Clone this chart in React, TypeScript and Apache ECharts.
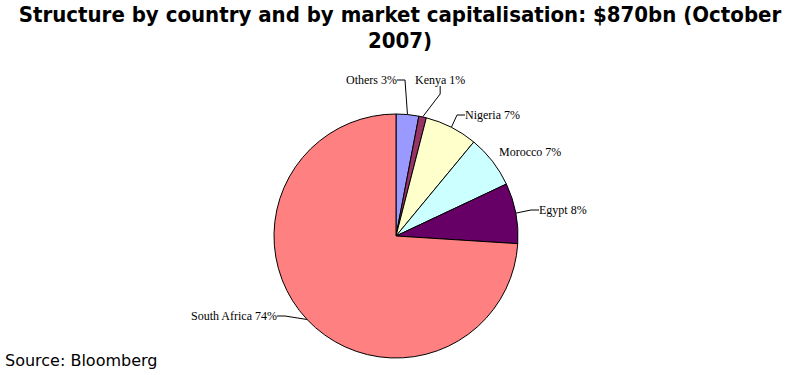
import React, { useEffect, useRef } from "react";
import * as echarts from "echarts";

const countries = ["Others", "Kenya", "Nigeria", "Morocco", "Egypt", "South Africa"];
const shares = [3, 1, 7, 7, 8, 74];
const colors = ["#9999FF", "#993366", "#FFFFCC", "#CCFFFF", "#660066", "#FF8080"];
const titleText = "Structure by country and by market capitalisation: $870bn (October\n2007)";
const sourceText = "Source: Bloomberg";

// label anchor placement (layout, not data)
const labelPos: { x: number; y: number; align: string; line: boolean }[] = [
  { x: 397, y: 80, align: "right", line: true },
  { x: 415, y: 80, align: "left", line: true },
  { x: 465, y: 115, align: "left", line: true },
  { x: 499, y: 152, align: "left", line: false },
  { x: 539, y: 210, align: "left", line: true },
  { x: 277, y: 316, align: "right", line: true },
];

export default function App() {
  const ref = useRef<HTMLDivElement>(null);
  useEffect(() => {
    document.body.style.margin = "0";
    const chart = echarts.init(ref.current!, undefined, { renderer: "svg" });
    chart.setOption({
      animation: false,
      backgroundColor: "#ffffff",
      title: {
        text: titleText,
        left: 400,
        top: 1,
        padding: 0,
        textAlign: "center",
        textStyle: {
          fontFamily: "DejaVu Sans Condensed",
          fontWeight: "bold",
          fontSize: 22,
          lineHeight: 26,
          color: "#000",
        },
      },
      graphic: [
        {
          type: "text",
          left: 5,
          top: 352,
          style: {
            text: sourceText,
            font: "16px 'DejaVu Sans'",
            fill: "#000",
          },
        },
      ],
      series: [
        {
          type: "pie",
          center: [396, 236],
          radius: 122,
          startAngle: 90,
          clockwise: true,
          avoidLabelOverlap: false,
          itemStyle: { borderColor: "#000", borderWidth: 1 },
          label: {
            show: true,
            formatter: "{b} {c}%",
            fontFamily: "Liberation Serif",
            fontSize: 12,
            color: "#000",
          },
          labelLine: {
            show: true,
            length: 8,
            length2: 8,
            lineStyle: { color: "#000", width: 1 },
          },
          labelLayout: (params: any) => {
            const p = labelPos[params.dataIndex];
            return { x: p.x, y: p.y, align: p.align, verticalAlign: "middle" };
          },
          emphasis: { disabled: true },
          data: countries.map((name, i) => ({
            name,
            value: shares[i],
            itemStyle: { color: colors[i] },
            labelLine: { show: labelPos[i].line },
          })),
        },
      ],
    });
    return () => chart.dispose();
  }, []);
  return <div ref={ref} style={{ width: 800, height: 375 }} />;
}
